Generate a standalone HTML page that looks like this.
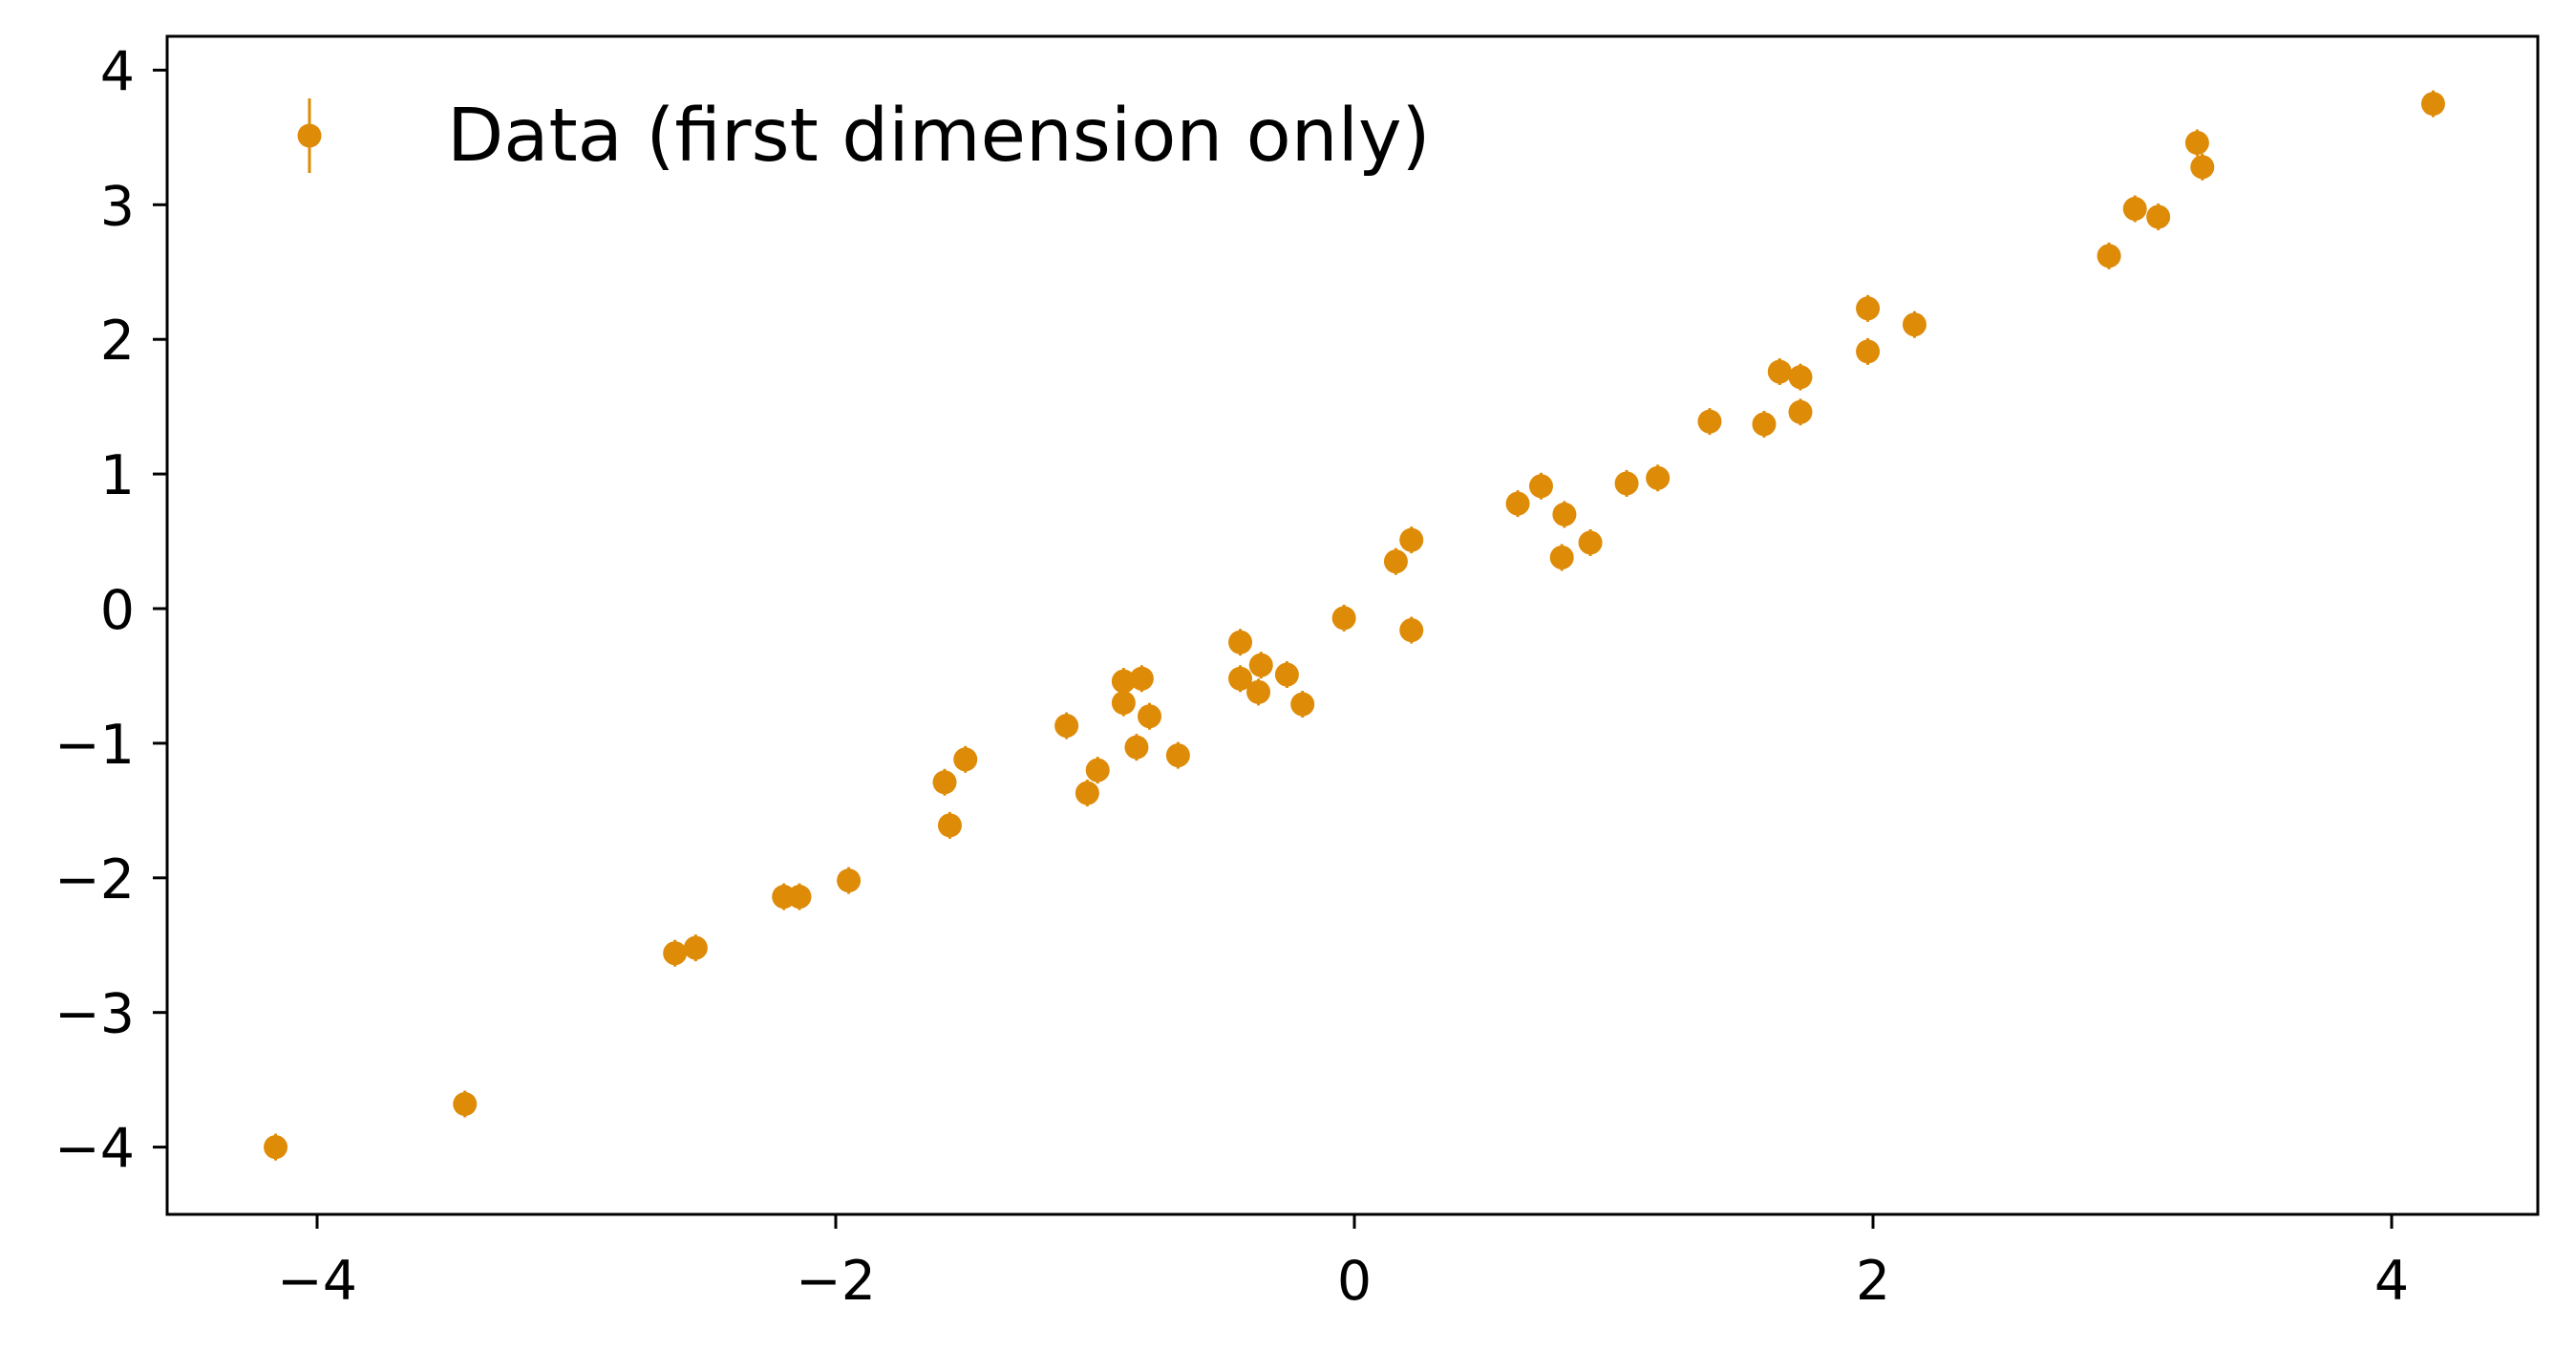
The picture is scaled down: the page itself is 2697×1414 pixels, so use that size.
<!DOCTYPE html>
<html><head><meta charset="utf-8"><style>body{margin:0;background:#fff}svg{display:block}</style></head>
<body>
<svg id="chart" width="2697" height="1414" xmlns="http://www.w3.org/2000/svg" font-family="'DejaVu Sans','Liberation Sans',sans-serif">
<rect x="0" y="0" width="2697" height="1414" fill="#fff"/>
<g id="pts"></g>
<rect x="175" y="38" width="2482" height="1233" fill="none" stroke="#000" stroke-width="3"/>
<g id="xt"></g>
<g id="yt"></g>
<g>
<line x1="324" y1="103" x2="324" y2="181" stroke="#de8b08" stroke-width="3"/>
<circle cx="324" cy="142" r="12.5" fill="#de8b08"/>
<text x="468" y="168" font-size="77" fill="#000">Data (first dimension only)</text>
</g>
</svg>
<script>
const xs=[-4.16,-3.43,-2.62,-2.54,-2.20,-2.14,-1.95,-1.58,-1.56,-1.50,-1.11,-1.03,-0.99,-0.89,-0.89,-0.84,-0.82,-0.79,-0.68,-0.44,-0.44,-0.37,-0.36,-0.26,-0.20,-0.04,0.16,0.22,0.22,0.63,0.72,0.81,0.80,0.91,1.05,1.17,1.37,1.58,1.64,1.72,1.72,1.98,1.98,2.16,2.91,3.01,3.10,3.25,3.27,4.16];
const ys=[-4.0,-3.68,-2.56,-2.52,-2.14,-2.14,-2.02,-1.29,-1.61,-1.12,-0.87,-1.37,-1.20,-0.54,-0.70,-1.03,-0.52,-0.80,-1.09,-0.25,-0.52,-0.62,-0.42,-0.49,-0.71,-0.07,0.35,0.51,-0.16,0.78,0.91,0.70,0.38,0.49,0.93,0.97,1.39,1.37,1.76,1.72,1.46,2.23,1.91,2.11,2.62,2.97,2.91,3.46,3.28,3.75];
const xTicks=[-4,-2,0,2,4];
const yTicks=[-4,-3,-2,-1,0,1,2,3,4];
const NS='http://www.w3.org/2000/svg';
const X=v=>1418+v*271.5, Y=v=>637-v*140.9;
function mk(t,a,p){const e=document.createElementNS(NS,t);for(const k in a)e.setAttribute(k,a[k]);p.appendChild(e);return e;}
const pts=document.getElementById('pts');
xs.forEach((x,i)=>{
  const l=mk('line',{x1:X(x),x2:X(x),y1:Y(ys[i])-14,y2:Y(ys[i])+14,stroke:'#de8b08','stroke-width':3},pts);
  
  
  const c=mk('circle',{cx:X(x),cy:Y(ys[i]),r:12.5,fill:'#de8b08'},pts);
  
  
});
const xt=document.getElementById('xt');
xTicks.forEach(v=>{
  const l=mk('line',{x1:X(v),x2:X(v),y1:1271,y2:1286,stroke:'#000','stroke-width':3},xt);
  
  
  const t=mk('text',{x:X(v),y:1360,'font-size':57,'text-anchor':'middle'},xt);
  t.textContent=(v<0?'\u2212':'')+Math.abs(v);
  
  
});
const yt=document.getElementById('yt');
yTicks.forEach(v=>{
  const l=mk('line',{x1:160,x2:175,y1:Y(v),y2:Y(v),stroke:'#000','stroke-width':3},yt);
  
  
  const t=mk('text',{x:141,y:Y(v)+21,'font-size':57,'text-anchor':'end'},yt);
  t.textContent=(v<0?'\u2212':'')+Math.abs(v);
  
  
});
</script>
</body></html>
